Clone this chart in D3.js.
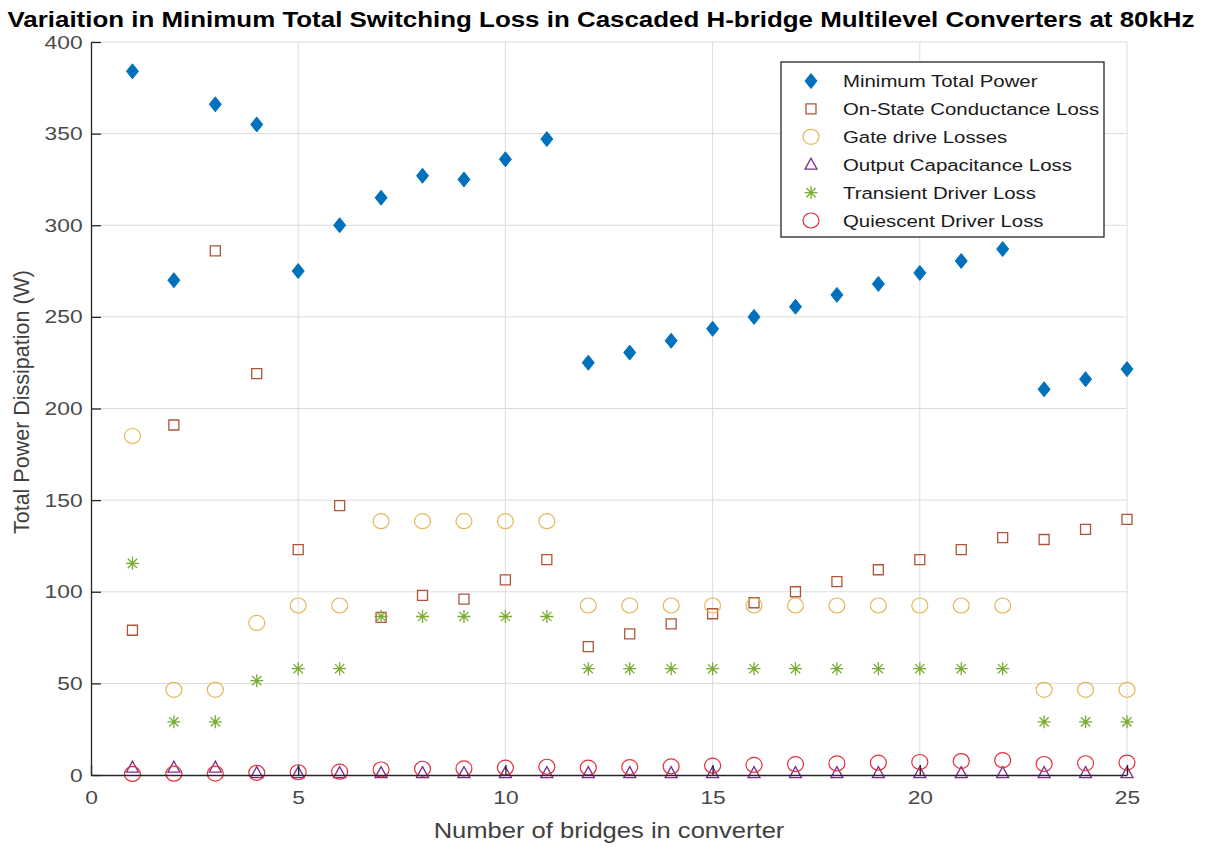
<!DOCTYPE html>
<html>
<head>
<meta charset="utf-8">
<script src="https://cdn.jsdelivr.net/npm/d3@7"></script>
<style>
  body { margin: 0; background: #fff; }
  text { font-family: "Liberation Sans", Arial, sans-serif; }
</style>
</head>
<body>
<div id="chart"></div>
<script>
// --- data ---
const bridges = d3.range(1, 26);
const minTotalPower = [384, 270, 366, 355, 275, 300, 315, 327, 325, 336, 347, 225, 230.5, 237, 243.5, 250, 255.5, 262, 268, 274, 280.5, 287, 210.5, 216, 221.5];
const onStateLoss = [79, 191, 286, 219, 123, 147, 86, 98, 96, 106.5, 117.5, 70, 77, 82.5, 88, 94, 100, 105.5, 112, 117.5, 123, 129.5, 128.5, 134, 139.5];
const gateDriveLoss = [185, 46.5, 46.5, 83, 92.5, 92.5, 138.5, 138.5, 138.5, 138.5, 138.5, 92.5, 92.5, 92.5, 92.5, 92.5, 92.5, 92.5, 92.5, 92.5, 92.5, 92.5, 46.5, 46.5, 46.5];
const outputCapLoss = [4, 4, 4, 1, 1, 1, 1, 1, 1, 1, 1, 1, 1, 1, 1, 1, 1, 1, 1, 1, 1, 1, 1, 1, 1];
const transientLoss = [115.5, 29, 29, 51.5, 58, 58, 86.5, 86.5, 86.5, 86.5, 86.5, 58, 58, 58, 58, 58, 58, 58, 58, 58, 58, 58, 29, 29, 29];
const quiescentLoss = [0.6, 0.7, 0.8, 1.2, 1.5, 1.8, 3, 3.4, 3.6, 4, 4.5, 4, 4.3, 4.7, 5.1, 5.5, 5.9, 6.3, 6.7, 7.1, 7.6, 8.1, 6, 6.4, 6.8];
const xTicks = [0, 5, 10, 15, 20, 25];
const yTicks = [0, 50, 100, 150, 200, 250, 300, 350, 400];

const series = [
  { name: "Minimum Total Power", values: minTotalPower, marker: "diamond", color: "#0072BD" },
  { name: "On-State Conductance Loss", values: onStateLoss, marker: "square", color: "#b0553a" },
  { name: "Gate drive Losses", values: gateDriveLoss, marker: "circle", color: "#e3b95a" },
  { name: "Output Capacitance Loss", values: outputCapLoss, marker: "triangle", color: "#7E2F8E" },
  { name: "Transient Driver Loss", values: transientLoss, marker: "star", color: "#77AC30" },
  { name: "Quiescent Driver Loss", values: quiescentLoss, marker: "circle", color: "#e3303c" }
];

const W = 1206, H = 850;
const margin = { top: 42, right: 79, bottom: 75, left: 91 };
const width = W - margin.left - margin.right;
const height = H - margin.top - margin.bottom;
const stretch = 1.2; // the figure's text is wider than it is tall

const svg = d3.select("#chart").append("svg")
  .attr("width", W).attr("height", H);

const g = svg.append("g")
  .attr("transform", `translate(${margin.left},${margin.top})`);

const x = d3.scaleLinear().domain([0, 25]).range([0, width]);
const y = d3.scaleLinear().domain([0, 400]).range([height, 0]);

// grid
g.append("g").selectAll("line").data(xTicks.slice(1)).enter().append("line")
  .attr("x1", d => x(d)).attr("x2", d => x(d))
  .attr("y1", 0).attr("y2", height)
  .attr("stroke", "#dcdcdc").attr("stroke-width", 1);
g.append("g").selectAll("line").data(yTicks.slice(1)).enter().append("line")
  .attr("x1", 0).attr("x2", width)
  .attr("y1", d => y(d)).attr("y2", d => y(d))
  .attr("stroke", "#dcdcdc").attr("stroke-width", 1);

// marker shapes
function markerPath(type) {
  if (type === "diamond") return "M0,-7.5L6,0L0,7.5L-6,0Z";
  if (type === "square") return "M-5,-5H5V5H-5Z";
  if (type === "triangle") return "M0,-6.5L6,4.5H-6Z";
  if (type === "star") return "M0,-6.5V6.5M-6.5,0H6.5M-4.6,-4.6L4.6,4.6M-4.6,4.6L4.6,-4.6";
  return null;
}

function drawMarker(sel, s) {
  if (s.marker === "circle") {
    sel.append("ellipse").attr("rx", 8).attr("ry", 7.5)
      .attr("fill", "none").attr("stroke", s.color).attr("stroke-width", 1.2);
  } else {
    sel.append("path").attr("d", markerPath(s.marker))
      .attr("fill", s.marker === "diamond" ? s.color : "none")
      .attr("stroke", s.color)
      .attr("stroke-width", s.marker === "diamond" ? 1 : 1.3);
  }
}

series.forEach(s => {
  const pts = g.append("g").selectAll("g").data(s.values).enter().append("g")
    .attr("transform", (d, i) => `translate(${x(bridges[i])},${y(d)})`);
  pts.each(function () { drawMarker(d3.select(this), s); });
});

// axes
const xAxis = d3.axisBottom(x).tickValues(xTicks).tickSizeInner(-10).tickSizeOuter(0).tickPadding(16);
const yAxis = d3.axisLeft(y).tickValues(yTicks).tickSizeInner(-10).tickSizeOuter(0).tickPadding(7);

const gx = g.append("g").attr("transform", `translate(0,${height})`).call(xAxis);
const gy = g.append("g").call(yAxis);
[gx, gy].forEach(a => {
  a.select(".domain").attr("stroke", "#262626").attr("stroke-width", 1.3);
  a.selectAll(".tick line").attr("stroke", "#262626").attr("stroke-width", 1.3);
  a.selectAll(".tick text").attr("fill", "#4a4a4a")
    .attr("transform", `scale(${stretch},1)`)
    .style("font-family", '"Liberation Sans", Arial, sans-serif').style("font-size", "19px");
});

// titles
svg.append("text")
  .attr("transform", `translate(601,27) scale(${stretch},1)`)
  .attr("text-anchor", "middle")
  .style("font-size", "21.6px").style("font-weight", "bold").attr("fill", "#000")
  .text("Variaition in Minimum Total Switching Loss in Cascaded H-bridge Multilevel Converters at 80kHz");

svg.append("text")
  .attr("transform", `translate(${margin.left + width / 2},838) scale(${stretch},1)`)
  .attr("text-anchor", "middle")
  .style("font-size", "21.3px").attr("fill", "#404040")
  .text("Number of bridges in converter");

svg.append("text")
  .attr("transform", `translate(29,402) rotate(-90)`)
  .attr("text-anchor", "middle")
  .style("font-size", "21.5px").attr("fill", "#404040")
  .text("Total Power Dissipation (W)");

// legend
const legend = svg.append("g").attr("transform", "translate(781,62)");
legend.append("rect").attr("width", 323).attr("height", 175)
  .attr("fill", "#fff").attr("stroke", "#262626").attr("stroke-width", 1.3);
series.forEach((s, i) => {
  const row = legend.append("g").attr("transform", `translate(0,${19 + i * 27.9})`);
  const m = row.append("g").attr("transform", "translate(30,0)");
  drawMarker(m, s);
  row.append("text").attr("transform", `translate(62,6) scale(${stretch},1)`)
    .style("font-size", "17px").attr("fill", "#1a1a1a")
    .text(s.name);
});
</script>
</body>
</html>
